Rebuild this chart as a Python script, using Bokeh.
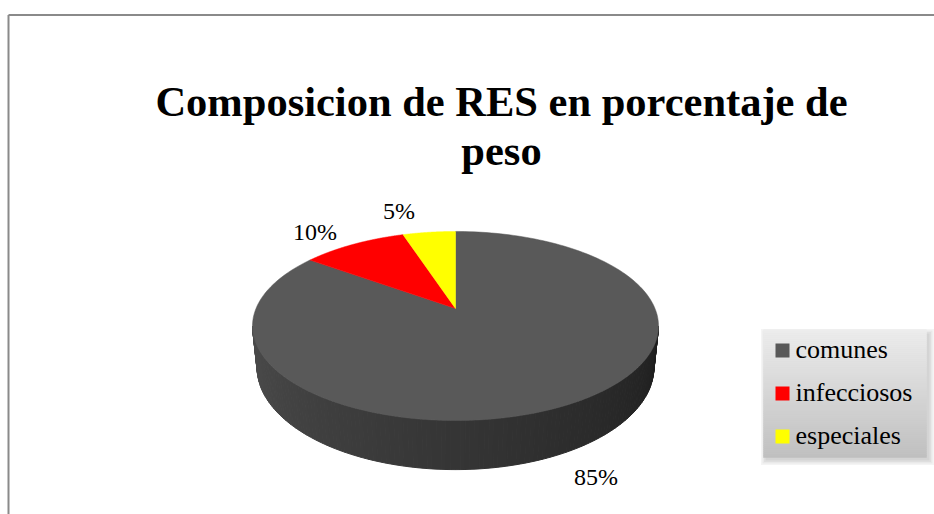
import numpy as np
from bokeh.plotting import figure
from bokeh.models import Range1d
from bokeh.core.properties import value
from bokeh.embed import file_html
from bokeh.resources import INLINE

# ---- data ----
categories = ["comunes", "infecciosos", "especiales"]
values = [85, 10, 5]
label_texts = ["85%", "10%", "5%"]
title_lines = ["Composicion de RES en porcentaje de", "peso"]

# ---- style ----
colors = ["#595959", "#ff0000", "#ffff00"]
label_offsets = [(34.5, 31.7), (-38.5, -3.8), (-30.0, -12.8)]
SERIF = value("Liberation Serif")
BASE_FIX = 0.345  # em: lift so the rendered baseline lands on the requested row

W, H = 934, 514


def Y(py):
    """page pixel row -> data y (y grows upward in data)"""
    return H - np.asarray(py, dtype=float)


def TY(py, size):
    """text baseline row -> data y, with baseline correction"""
    return Y(np.asarray(py, dtype=float) - BASE_FIX * size)


# projection of the 3D pie (page pixel space)
cx, cy0 = 455.0, 308.0
k = 0.185
A_top, A_bot = 199.5, 195.0
B = 91.3
DEPTH = 40.0


def proj(theta, bottom=False):
    X = np.cos(theta)
    Z = np.sin(theta)
    d = 1 + k * Z
    A = A_bot if bottom else A_top
    x = cx + A * X / d
    y = cy0 - B * Z / d + (DEPTH / d if bottom else 0.0)
    return x, y


p = figure(width=W, height=H, x_range=Range1d(0, W), y_range=Range1d(0, H),
           output_backend="svg", toolbar_location=None, min_border=0,
           x_axis_type=None, y_axis_type=None)
p.grid.visible = False
p.outline_line_color = None
p.background_fill_color = "white"
p.border_fill_color = "white"

# chart frame lines (top and left)
p.segment(x0=[8, 8], y0=list(Y([14.5, 14.5])), x1=[W, 8], y1=list(Y([14.5, H])),
          line_color="#8a8a8a", line_width=2)

# ---- side of the pie (gradient strips) ----
thL = np.pi + np.arcsin(k)
thR = 2 * np.pi - np.arcsin(k)
N = 140
ths = np.linspace(thL, thR, N + 1)
xs, ys, cs = [], [], []
for i in range(N):
    t0, t1 = ths[i], ths[i + 1]
    xa, ya = proj(t0)
    xb, yb = proj(t1)
    xc, yc = proj(t1, bottom=True)
    xd, yd = proj(t0, bottom=True)
    xs.append([xa, xb, xc, xd])
    ys.append(list(Y([ya, yb, yc, yd])))
    f = (i + 0.5) / N
    g = int(round(76 - 46 * f))
    cs.append("#%02x%02x%02x" % (g, g, g))
p.patches(xs=xs, ys=ys, fill_color=cs, line_color=cs, line_width=1)

# ---- top face slices ----
total = float(sum(values))
cum = np.concatenate([[0], np.cumsum(values)]) / total
sx, sy = [], []
mids = []
for i in range(len(values)):
    a0 = np.pi / 2 - 2 * np.pi * cum[i]
    a1 = np.pi / 2 - 2 * np.pi * cum[i + 1]
    arc = np.linspace(a0, a1, 200)
    px, py = proj(arc)
    sx.append([cx] + list(px))
    sy.append(list(Y([cy0] + list(py))))
    mids.append((a0 + a1) / 2)
p.patches(xs=sx, ys=sy, fill_color=colors, line_color=colors, line_width=0.5)

# ---- data labels ----
LBL = 24
lx, ly = [], []
for i, m in enumerate(mids):
    below = np.sin(m) < 0
    ax, ay = proj(m, bottom=below)
    lx.append(ax + label_offsets[i][0])
    ly.append(float(TY(ay + label_offsets[i][1], LBL)))
p.text(x=lx, y=ly, text=label_texts, text_font=SERIF, text_font_size=f"{LBL}px",
       text_align="center", text_baseline="alphabetic", text_color="black")

# ---- title ----
TTL = 42.5
p.text(x=[501, 501], y=list(TY([116, 165], TTL)), text=title_lines, text_font=SERIF,
       text_font_size=f"{TTL}px", text_font_style="bold", text_align="center",
       text_baseline="alphabetic", text_color="black")

# ---- legend ----
L, R, T, Bm = 763.0, 926.0, 329.0, 457.0
for j in range(4):
    e = 1.5 * j
    p.quad(left=L + 2 - e, right=R + 3 + e, top=float(Y(T + 4 - e)), bottom=float(Y(Bm + 3 + e)),
           fill_color="black", fill_alpha=0.045, line_color=None)
M = 64
edges = Y(np.linspace(T, Bm, M + 1))
gcols = []
for j in range(M):
    f = (j + 0.5) / M
    g = int(round(237 - 46 * f))
    gcols.append("#%02x%02x%02x" % (g, g, g))
p.quad(left=[L] * M, right=[R] * M, top=list(edges[:-1]), bottom=list(edges[1:]),
       fill_color=gcols, line_color=gcols, line_width=0.5)

LEG = 26
n = len(categories)
item_y = [T + 21 + 43 * i for i in range(n)]
p.quad(left=[775] * n, right=[789] * n, top=list(Y([y - 7 for y in item_y])),
       bottom=list(Y([y + 7 for y in item_y])), fill_color=colors, line_color=None)
p.text(x=[795] * n, y=list(TY([y + 8 for y in item_y], LEG)), text=categories, text_font=SERIF,
       text_font_size=f"{LEG}px", text_baseline="alphabetic", text_color="black")

open("out.html", "w").write(file_html(p, INLINE))
